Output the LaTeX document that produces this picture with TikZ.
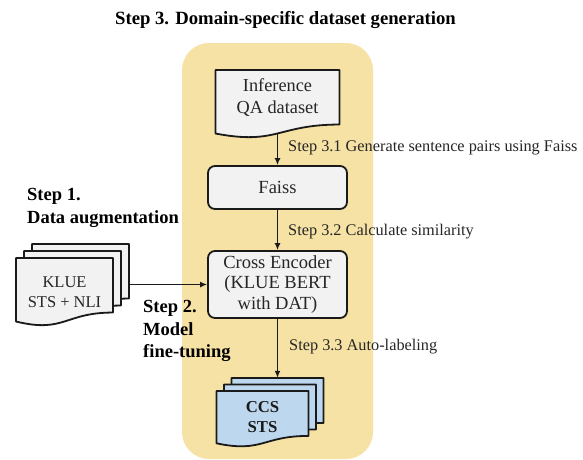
\documentclass[tikz,border=0pt]{standalone}
\usepackage{fontspec}
\setmainfont{Liberation Serif}
\usetikzlibrary{arrows.meta}
\definecolor{bgyellow}{HTML}{F6E2A4}
\definecolor{boxgray}{HTML}{F2F2F2}
\definecolor{docblue}{HTML}{BDD7EE}
\definecolor{inkc}{HTML}{1A1A1A}
\newcommand\mydocshape[5]{%
  \pgfmathsetmacro\mydocxr{#2+#4}%
  \pgfmathsetmacro\mydocxm{#2+0.5*#4}%
  \pgfmathsetmacro\mydocya{#3+0.802*#5}%
  \pgfmathsetmacro\mydocyb{#3+1.108*#5}%
  \pgfmathsetmacro\mydocyc{#3+0.934*#5}%
  \draw[#1] (#2,#3) -- (\mydocxr,#3) -- (\mydocxr,\mydocya)
    .. controls (\mydocxm,\mydocya) and (\mydocxm,\mydocyb) .. (#2,\mydocyc) -- cycle;}
\begin{document}
\begin{tikzpicture}[x=1pt,y=-1pt,
  shapeline/.style={draw=inkc, line width=1.8pt, line join=round},
  graydoc/.style={shapeline, fill=boxgray},
  bluedoc/.style={shapeline, fill=docblue},
  roundbox/.style={shapeline, fill=boxgray, rounded corners=7pt, minimum width=139pt,
    inner sep=0pt, align=center, text=black!85, font=\fontsize{18.5}{20.5}\selectfont},
  docanchor/.style={inner sep=0pt, draw=none},
  doctext/.style={inner sep=0pt, align=center, text=black!85},
  arr/.style={-{Latex[length=7pt,width=6pt]}, line width=1.4pt, draw=inkc},
  lbl/.style={anchor=west, inner sep=0pt, text=black!85, font=\fontsize{16.3}{19}\selectfont},
  steptext/.style={anchor=west, align=left, inner sep=0pt, font=\bfseries\fontsize{18.5}{22.8}\selectfont}
]
\useasboundingbox (0,0) rectangle (583,459);
% background panel
\fill[bgyellow, rounded corners=27pt] (182,43) rectangle (373,459);
% title
\node[inner sep=0pt, font=\bfseries\fontsize{18.7}{22}\selectfont] (title) at (285.5,20) {Step 3. Domain-specific dataset generation};

% Inference QA dataset document
\mydocshape{graydoc}{215.5}{70}{124}{68}
\node[docanchor, minimum width=124pt, minimum height=63.4pt] (inf) at (277.5,101.7) {};
\node[doctext, font=\fontsize{18.3}{22}\selectfont] (inftext) at (277.5,98) {Inference\\QA dataset};

% Faiss box
\node[roundbox, minimum height=43pt] (faiss) at (277.5,187.5) {Faiss};

% Cross encoder box
\node[roundbox, minimum height=67pt] (ce) at (277.5,284.5) {Cross Encoder\\(KLUE BERT\\with DAT)};

% KLUE stack
\mydocshape{graydoc}{32}{244}{97}{68}
\mydocshape{graydoc}{24}{251}{97}{68}
\mydocshape{graydoc}{16}{258}{97}{68}
\node[docanchor, minimum width=97pt, minimum height=63.4pt] (klueback) at (80.5,275.7) {};
\node[doctext, font=\fontsize{16.5}{20}\selectfont] (kluetext) at (64.5,292) {KLUE\\STS + NLI};

% CCS STS stack
\mydocshape{bluedoc}{231.5}{378}{92}{56}
\mydocshape{bluedoc}{224}{384.5}{92}{56}
\mydocshape{bluedoc}{216.5}{391}{92}{56}
\node[docanchor, minimum width=92pt, minimum height=52.2pt] (ccsback) at (277.5,404.1) {};
\node[doctext, text=inkc, font=\bfseries\fontsize{16.7}{20}\selectfont] (ccstext) at (262.5,417) {CCS\\STS};

% connectors
\draw[arr] (inf.south) -- (faiss.north);
\draw[arr] (faiss.south) -- (ce.north);
\draw[arr] (ce.south) -- (ccsback.north);
\draw[arr] (ce.west -| klueback.east) -- (ce.west);

% labels
\node[lbl] (l31) at (288,148) {Step 3.1 Generate sentence pairs using Faiss};
\node[lbl] (l32) at (288,232) {Step 3.2 Calculate similarity};
\node[lbl] (l33) at (289,347) {Step 3.3 Auto-labeling};

\node[steptext] (s1) at (27,208) {Step 1.\\Data augmentation};
\node[steptext] (s2) at (143,331) {Step 2.\\Model\\fine-tuning};
\end{tikzpicture}
\end{document}
